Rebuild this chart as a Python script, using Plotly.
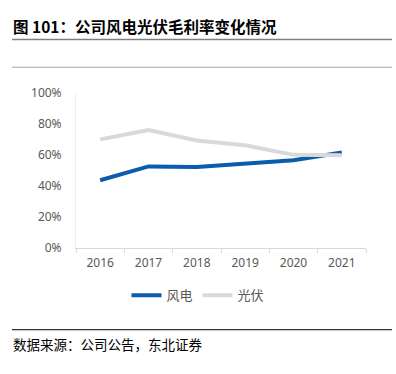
import plotly.graph_objects as go

years = ["2016", "2017", "2018", "2019", "2020", "2021"]
wind = [0.436, 0.525, 0.521, 0.545, 0.565, 0.615]
solar = [0.700, 0.760, 0.693, 0.662, 0.600, 0.598]
y_ticks = [0, 0.2, 0.4, 0.6, 0.8, 1.0]

W, H = 396, 374
def px(x): return x / W
def py(y): return (H - y) / H

fig = go.Figure()
fig.add_trace(go.Scatter(x=years, y=wind, mode="lines", name="风电",
                         line=dict(color="#0B5CAD", width=4)))
fig.add_trace(go.Scatter(x=years, y=solar, mode="lines", name="光伏",
                         line=dict(color="#D9D9D9", width=4)))

fig.update_layout(
    width=W, height=H,
    margin=dict(l=0, r=0, t=0, b=0),
    paper_bgcolor="white", plot_bgcolor="white",
    font=dict(family="Noto Sans CJK SC, Noto Sans", color="#595959", size=12),
    xaxis=dict(type="category", domain=[px(76), px(366)], range=[-0.5, 5.5],
               showline=True, linecolor="#D9D9D9", linewidth=1,
               ticks="outside", tickson="boundaries", ticklen=4, tickcolor="#D9D9D9",
               ticklabelstandoff=4,
               showgrid=False, tickfont=dict(size=12, color="#595959", family="Noto Sans")),
    yaxis=dict(domain=[py(250), py(88)], range=[0, 1.0], tickvals=y_ticks,
               tickformat=".0%", showgrid=False, showline=True, linecolor="#EDEDED",
               zeroline=False, ticks="", ticklabelstandoff=11,
               tickfont=dict(size=12, color="#595959", family="Noto Sans")),
    showlegend=True,
    legend=dict(orientation="h", x=0.5, xanchor="center", y=py(300), yanchor="middle",
                font=dict(size=13, color="#595959"), itemwidth=30, tracegroupgap=0),
    hovermode=False,
)

shapes = [
    dict(type="line", xref="paper", yref="paper", x0=px(12), x1=px(392), y0=py(32), y1=py(32),
         line=dict(color="#7F7F7F", width=1.5)),
    dict(type="line", xref="paper", yref="paper", x0=px(12), x1=px(392), y0=py(61), y1=py(61),
         line=dict(color="#A6A6A6", width=1)),
    dict(type="line", xref="paper", yref="paper", x0=px(12), x1=px(392), y0=py(336), y1=py(336),
         line=dict(color="#000000", width=1)),
]
fig.update_layout(shapes=shapes)

fig.add_annotation(xref="paper", yref="paper", x=px(11), y=py(18), xanchor="left", yanchor="middle",
                   text="<b>图 101：公司风电光伏毛利率变化情况</b>", showarrow=False,
                   font=dict(size=15.5, color="#000000", family="Noto Sans CJK SC"))
fig.add_annotation(xref="paper", yref="paper", x=px(11), y=py(351), xanchor="left", yanchor="middle",
                   text="数据来源：公司公告，东北证券", showarrow=False,
                   font=dict(size=13.5, color="#000000", family="Noto Sans CJK SC"))

fig.write_html("out.html", config={"displayModeBar": False},
               post_script="document.body.style.margin='0';document.body.style.overflow='hidden';")
